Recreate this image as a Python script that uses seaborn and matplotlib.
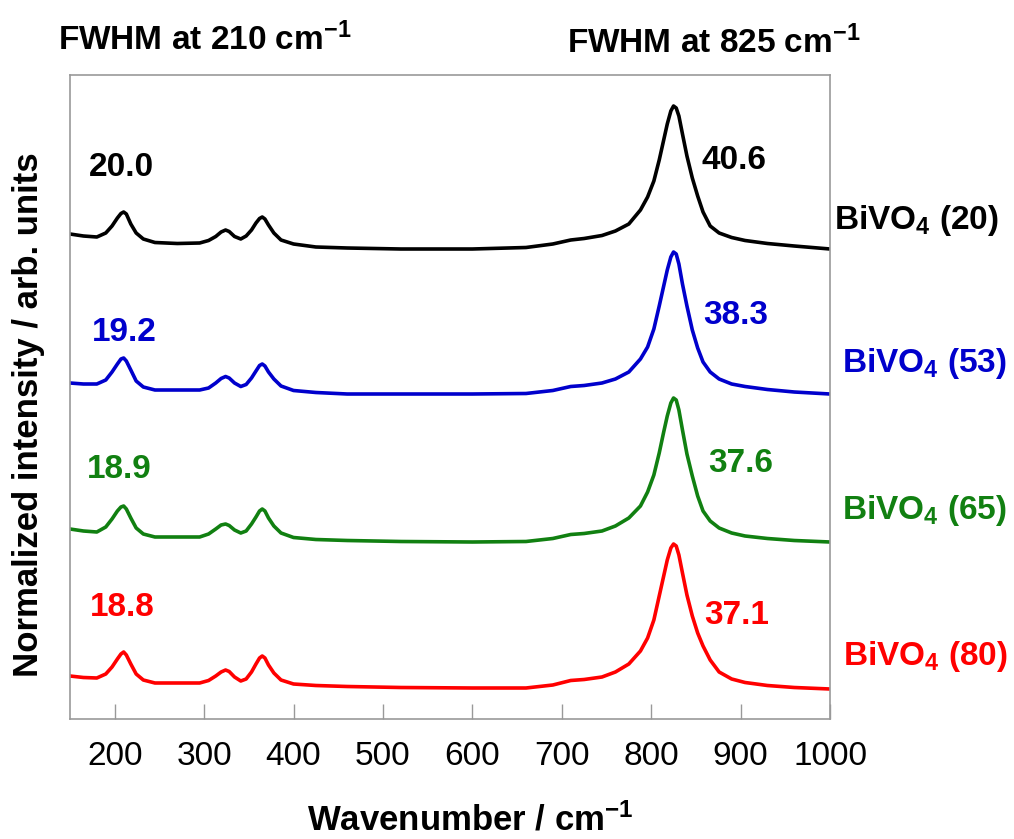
import numpy as np
import pandas as pd
import matplotlib
matplotlib.use("Agg")
import matplotlib.pyplot as plt
import seaborn as sns

sns.set_theme(style="white")
plt.rcParams["font.family"] = ["Liberation Sans", "DejaVu Sans"]
plt.rcParams["text.color"] = "black"
plt.rcParams["mathtext.fontset"] = "custom"
plt.rcParams["mathtext.rm"] = "Liberation Sans"
plt.rcParams["mathtext.bf"] = "Liberation Sans:bold"
plt.rcParams["mathtext.it"] = "Liberation Sans:italic"

# Raman shift grid (cm-1)
wavenumber = [150, 165, 180, 190, 197, 203, 207, 210, 213, 218,
              224, 232, 245, 270, 295, 305, 313, 319, 324, 328,
              334, 341, 347, 353, 358, 362, 365, 368, 372, 378,
              386, 400, 425, 460, 520, 600, 660, 690, 710, 725,
              745, 760, 775, 788, 796, 803, 809, 814, 818, 822,
              825, 828, 831, 835, 840, 846, 852, 858, 866, 876,
              890, 905, 930, 960, 1000]

# intensities (arb. units, above each curve's baseline)
int_20 = [15, 13, 12, 16, 23, 31, 35.5, 37, 35, 25,
          16, 10, 6.5, 5.5, 6, 8.5, 12.5, 17, 19, 17.5,
          12.5, 10, 13, 19, 26, 30.5, 32, 30, 24, 16,
          9, 5, 2, 1, 0, 0, 1.5, 5, 9, 10.5,
          13.5, 18, 25, 39, 52, 68, 89, 109, 125, 138,
          143, 141, 133, 115, 93, 71, 53, 37, 23, 16,
          11.5, 8.5, 5.5, 3, 0]
int_53 = [11, 10, 10, 14, 22, 30, 35, 36, 33, 24,
          13, 7, 4, 4, 4, 6, 11, 15.5, 17.5, 16,
          11, 7.5, 9.5, 16, 23, 28.5, 30, 28, 22, 15,
          8, 3.5, 1.5, 0, 0, 0, 0.5, 3.5, 7.5, 8.5,
          11, 15, 22, 35, 47, 65, 88, 108, 124, 137,
          142, 140, 130, 110, 88, 64, 46, 32, 22, 15,
          10, 7.5, 4.5, 2, 0]
int_65 = [13, 11, 10, 15, 23, 31, 35, 36, 33, 24,
          14, 8, 5, 5, 5, 8, 13, 17, 18, 16.5,
          12, 9, 11, 18, 25, 31, 33, 31, 24, 16,
          9, 4.5, 2.5, 1.5, 0.5, 0, 0.5, 3.5, 7.5, 8.5,
          11, 16, 24, 36, 50, 67, 89, 110, 126, 139,
          144, 142, 132, 112, 88, 66, 46, 31, 21, 14,
          9, 6, 3.5, 1.5, 0]
int_80 = [13, 11.5, 11, 15, 22, 30, 35, 37, 34, 25,
          15, 9, 6, 6, 6, 8.5, 13, 17, 19, 17.5,
          12, 8, 10, 17, 25, 31, 33, 31, 24, 16,
          9, 5, 3.5, 2.5, 1.5, 1, 1, 4, 8.5, 9.5,
          12, 17, 25, 38, 51, 69, 93, 113, 129, 141,
          145, 143, 134, 116, 94, 73, 56, 43, 29, 17,
          10, 6.5, 3.5, 1.5, 0]

samples = ["20", "53", "65", "80"]
offsets = [470, 325, 177, 30]
colors = ["black", "#0000CC", "#118011", "#FF0000"]
fwhm_210 = ["20.0", "19.2", "18.9", "18.8"]
fwhm_825 = ["40.6", "38.3", "37.6", "37.1"]

spectra = [int_20, int_53, int_65, int_80]
frames = []
for s, off, y in zip(samples, offsets, spectra):
    frames.append(pd.DataFrame({"Wavenumber": wavenumber,
                                "Intensity": np.array(y) + off,
                                "Sample": s}))
df = pd.concat(frames, ignore_index=True)

fig = plt.figure(figsize=(10.14, 8.39), dpi=100)
ax = fig.add_axes([70 / 1014, 1 - 719 / 839, 760 / 1014, 644 / 839])

sns.lineplot(data=df, x="Wavenumber", y="Intensity", hue="Sample",
             palette=dict(zip(samples, colors)), estimator=None, sort=False,
             linewidth=2.6, legend=False, ax=ax,
             solid_joinstyle="round", solid_capstyle="round")

ax.set_xlim(150, 1000)
ax.set_ylim(0, 644)
ax.set_xticks(range(200, 1001, 100))
ax.set_yticks([])
ax.tick_params(axis="x", direction="in", length=11, width=1, color="#999999",
               labelsize=24, labelcolor="black", pad=16, bottom=True)
for sp in ax.spines.values():
    sp.set_color("#999999")
    sp.set_linewidth(1.2)
ax.set_xlabel("")
ax.set_ylabel("")

# FWHM values next to the peaks
pos_210 = [(208, 552), (211, 387), (205, 249), (208, 112)]
pos_825 = [(893, 559), (894, 404), (900, 255), (896, 104)]
for t, (x, y), c in zip(fwhm_210, pos_210, colors):
    ax.text(x, y, t, color=c, fontsize=24, fontweight="bold", ha="center", va="center")
for t, (x, y), c in zip(fwhm_825, pos_825, colors):
    ax.text(x, y, t, color=c, fontsize=24, fontweight="bold", ha="center", va="center")

# sample labels to the right of the frame
lab_pos = [(1097, 499), (1105, 356), (1106, 209), (1107, 62)]
for s, (x, y), c in zip(samples, lab_pos, colors):
    ax.text(x, y, r"BiVO$_\mathbf{4}$ (" + s + ")", color=c, fontsize=24,
            fontweight="bold", ha="center", va="center", clip_on=False)

fig.text(58 / 1014, 1 - 50 / 839, r"FWHM at 210 cm$^{\mathbf{-1}}$", fontsize=24,
         fontweight="bold", ha="left", va="baseline")
fig.text(567 / 1014, 1 - 53 / 839, r"FWHM at 825 cm$^{\mathbf{-1}}$", fontsize=24,
         fontweight="bold", ha="left", va="baseline")

fig.text(470 / 1014, 1 - 830 / 839, r"Wavenumber / cm$^{\mathbf{-1}}$", fontsize=25,
         fontweight="bold", ha="center", va="baseline")
fig.text(29 / 1014, 1 - 415 / 839, "Normalized intensity / arb. units", fontsize=25,
         fontweight="bold", ha="center", va="center", rotation=90)

fig.savefig("out.png", dpi=100, facecolor="white")
